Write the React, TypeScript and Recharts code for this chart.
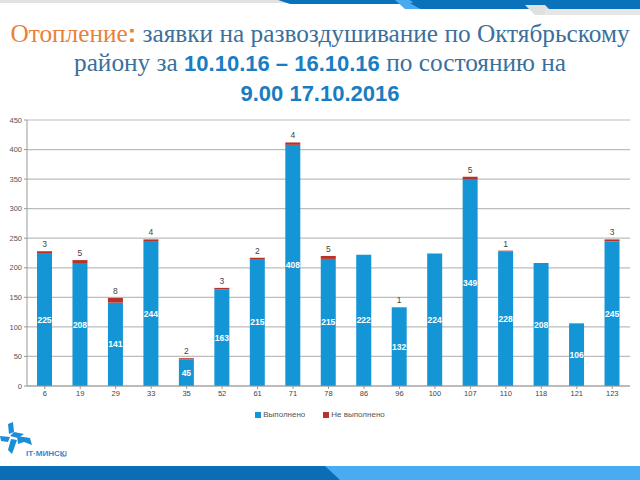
import React from 'react';
import { BarChart, Bar, XAxis, YAxis, CartesianGrid, Legend, LabelList } from 'recharts';

const categories = ['6', '19', '29', '33', '35', '52', '61', '71', '78', '86', '96', '100', '107', '110', '118', '121', '123'];
const doneValues = [225, 208, 141, 244, 45, 163, 215, 408, 215, 222, 132, 224, 349, 228, 208, 106, 245];
const notDoneValues = [3, 5, 8, 4, 2, 3, 2, 4, 5, 0, 1, 0, 5, 1, 0, 0, 3];
const yTicks = [0, 50, 100, 150, 200, 250, 300, 350, 400, 450];

const data = categories.map((name, i) => ({
  name,
  done: doneValues[i],
  notDone: notDoneValues[i],
}));

const BLUE = '#1496d6';
const RED = '#b8322a';
const AXIS_FONT = '"Liberation Sans", Arial, sans-serif';

const DoneLabel = (props: any) => {
  const { x, y, width, height, value } = props;
  return (
    <text
      x={x + width / 2}
      y={y + height / 2}
      textAnchor="middle"
      dominantBaseline="central"
      fill="#fff"
      fontSize={8.5}
      fontWeight="bold"
      fontFamily={AXIS_FONT}
    >
      {value}
    </text>
  );
};

const NotDoneLabel = (props: any) => {
  const { x, y, width, value } = props;
  if (!value) return null;
  return (
    <text
      x={x + width / 2}
      y={y - 4}
      textAnchor="middle"
      fill="#444"
      fontSize={8.5}
      fontFamily={AXIS_FONT}
    >
      {value}
    </text>
  );
};

const renderLegend = () => (
  <div style={{ display: 'flex', justifyContent: 'center', gap: 18, fontFamily: AXIS_FONT, fontSize: 8, color: '#555' }}>
    <span style={{ display: 'flex', alignItems: 'center' }}>
      <span style={{ width: 6, height: 6, background: BLUE, marginRight: 2 }} />
      Выполнено
    </span>
    <span style={{ display: 'flex', alignItems: 'center' }}>
      <span style={{ width: 6, height: 6, background: RED, marginRight: 2 }} />
      Не выполнено
    </span>
  </div>
);

export default function App() {
  return (
    <div style={{ position: 'absolute', left: 0, top: 0, width: 640, height: 480, background: '#fff', overflow: 'hidden' }}>
      {/* header decoration */}
      <svg width={640} height={20} style={{ position: 'absolute', left: 0, top: 0 }}>
        <rect x={0} y={0} width={640} height={3} fill="#e2e2e2" />
        <polygon points="278,0 640,0 640,4 290,4" fill="#0a72ba" />
        <polygon points="395,0 410,0 420,9 405,9" fill="#4aaaf0" />
        <polygon points="410,3 640,3 640,9 420,9" fill="#0a72ba" />
        <polygon points="525,5 545,5 555,15 535,15" fill="#e0e0e0" />
        <rect x={545} y={9} width={95} height={6} fill="#e6e6e6" />
      </svg>

      {/* title */}
      <div
        style={{
          position: 'absolute',
          left: 0,
          top: 19,
          width: 640,
          textAlign: 'center',
          fontFamily: '"Liberation Serif", "Times New Roman", serif',
          fontSize: 25.3,
          lineHeight: '28.5px',
          color: '#3b6f9c',
          whiteSpace: 'nowrap',
        }}
      >
        <span style={{ color: '#e8823a' }}>Отопление</span>
        <span style={{ color: '#e8823a', fontWeight: 'bold', fontFamily: AXIS_FONT }}>:</span> заявки на развоздушивание по Октябрьскому
        <br />
        району за{' '}
        <span style={{ fontFamily: AXIS_FONT, fontWeight: 'bold', color: '#1a7cc2', fontSize: 22 }}>10.10.16 – 16.10.16</span> по состоянию на
        <br />
        <span style={{ fontFamily: AXIS_FONT, fontWeight: 'bold', color: '#1a7cc2', fontSize: 22 }}>9.00 17.10.2016</span>
      </div>

      {/* chart */}
      <div style={{ position: 'absolute', left: 0, top: 0 }}>
        <BarChart
          width={640}
          height={415}
          data={data}
          margin={{ top: 120, right: 10, left: 7, bottom: 0 }}
          barSize={15}
        >
          <CartesianGrid vertical={false} stroke="#bdbdbd" strokeWidth={1.2} />
          <XAxis
            dataKey="name"
            tick={{ fontSize: 7.5, fill: '#444', fontFamily: AXIS_FONT }}
            tickLine={{ stroke: '#999' }}
            axisLine={{ stroke: '#999' }}
            tickSize={3}
            interval={0}
            height={20}
          />
          <YAxis
            domain={[0, 450]}
            ticks={yTicks}
            width={20}
            tick={{ fontSize: 7.5, fill: '#555', fontFamily: AXIS_FONT }}
            tickLine={{ stroke: '#999' }}
            axisLine={{ stroke: '#999' }}
            tickSize={3}
            interval={0}
          />
          <Legend
            content={renderLegend}
            verticalAlign="bottom"
            wrapperStyle={{ top: 410, left: 0, width: 640, bottom: 'auto' }}
          />
          <Bar dataKey="done" name="Выполнено" stackId="a" fill={BLUE} isAnimationActive={false}>
            <LabelList dataKey="done" content={DoneLabel} />
          </Bar>
          <Bar dataKey="notDone" name="Не выполнено" stackId="a" fill={RED} isAnimationActive={false}>
            <LabelList dataKey="notDone" content={NotDoneLabel} />
          </Bar>
        </BarChart>
      </div>

      {/* logo */}
      <svg width={120} height={40} style={{ position: 'absolute', left: 0, top: 422 }}>
        <polygon points="8,2 13,0 14,10 9,12" fill="#1a8fd8" />
        <polygon points="14,10 24,12 18,16 10,14" fill="#1a8fd8" />
        <polygon points="0,14 10,15 8,20 1,19" fill="#1a8fd8" />
        <polygon points="11,17 17,18 12,32 8,28" fill="#1a8fd8" />
        <polygon points="17,14 30,16 32,23 24,20 18,22" fill="#1a8fd8" />
        <text x={26} y={34} fontSize={8} fontWeight="bold" fill="#1a8fd8" fontFamily={AXIS_FONT}>IT·МИНСК</text>
        <polyline points="66,29 66,34 61,34" fill="none" stroke="#1a8fd8" strokeWidth={1} />
      </svg>

      {/* footer bar */}
      <svg width={640} height={16} style={{ position: 'absolute', left: 0, top: 464 }}>
        <rect x={0} y={2} width={640} height={14} fill="#4aacf0" />
        <polygon points="0,2 325,2 340,16 0,16" fill="#0a6db5" />
      </svg>
    </div>
  );
}
